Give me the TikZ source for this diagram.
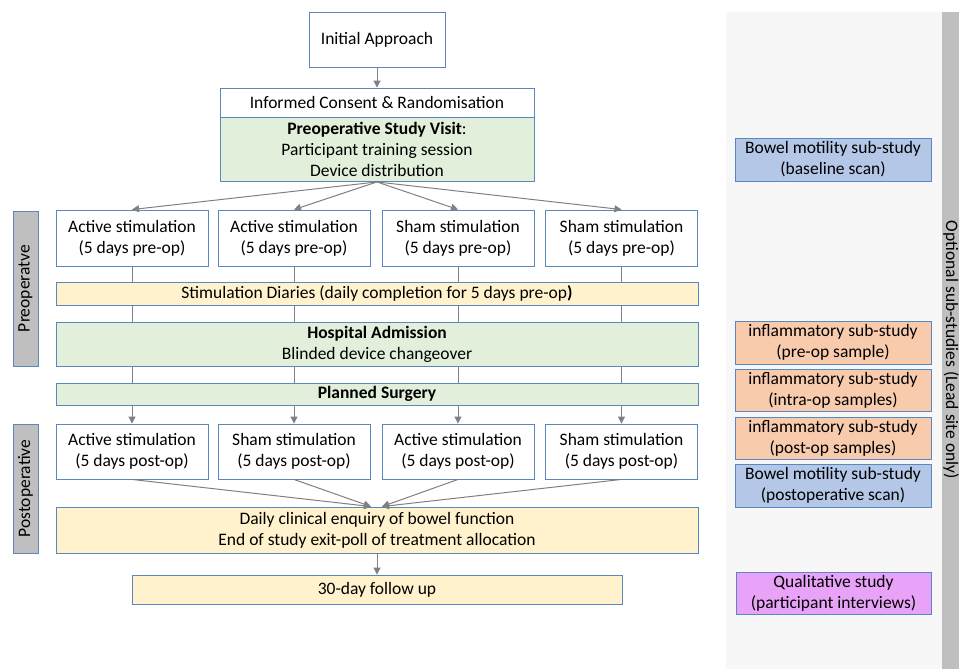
\documentclass[tikz,border=0pt]{standalone}
\usepackage{fontspec}
\setmainfont{Carlito}
\usetikzlibrary{arrows.meta}
\definecolor{bordblue}{HTML}{5A87BE}
\definecolor{greenfill}{HTML}{E2EFDA}
\definecolor{yellowfill}{HTML}{FFF2CC}
\definecolor{orangefill}{HTML}{F8CBAD}
\definecolor{bluefill}{HTML}{B4C7E7}
\definecolor{purplefill}{HTML}{E8A2F7}
\definecolor{labgray}{HTML}{BFBFBF}
\definecolor{panelgray}{HTML}{F7F7F7}
\definecolor{arrgray}{HTML}{808080}
\tikzset{
  box/.style={draw=bordblue, line width=0.9pt, align=center, inner sep=0pt, font=\fontsize{17.5}{21}\selectfont},
  conn/.style={draw=arrgray, line width=1pt},
  arr/.style={conn, -{Triangle[length=7pt,width=7pt]}},
}
\begin{document}
\begin{tikzpicture}[x=1pt,y=-1pt]
\useasboundingbox (0,0) rectangle (959,669);
% right panel
\fill[panelgray] (726,12) rectangle (942,669);
\fill[labgray] (942,12) rectangle (959,669);
\node[rotate=-90, font=\fontsize{17.5}{21}\selectfont] (optlab) at (951,350) {Optional sub-studies (Lead site only)};

% main flow
\node[box, fill=white, minimum width=136pt, minimum height=55pt] (init) at (377,40) {Initial Approach};
\node[box, fill=white, minimum width=314pt, minimum height=29pt] (consent) at (377,102.5) {Informed Consent \& Randomisation};
\node[box, fill=greenfill, minimum width=314pt, minimum height=64pt] (visit) at (377,149.5) {\textbf{Preoperative Study Visit}:\\Participant training session\\Device distribution};

\foreach \n/\cx/\t in {a1/132/Active, a2/294/Active, a3/458/Sham, a4/621.5/Sham}{
  \node[box, fill=white, minimum width=152pt, minimum height=56pt] (\n) at (\cx,238) {\t\ stimulation\\(5 days pre-op)};
}
\node[box, fill=yellowfill, minimum width=642pt, minimum height=23pt] (diary) at (377,293.5) {Stimulation Diaries (daily completion for 5 days pre-op\textbf{)}};
\node[box, fill=greenfill, minimum width=642pt, minimum height=44pt] (hosp) at (377,344) {\textbf{Hospital Admission}\\Blinded device changeover};
\node[box, fill=greenfill, minimum width=642pt, minimum height=22pt] (surg) at (377,394) {\textbf{Planned Surgery}};
\foreach \n/\cx/\t in {p1/132/Active, p2/294/Sham, p3/458/Active, p4/621.5/Sham}{
  \node[box, fill=white, minimum width=152pt, minimum height=55pt] (\n) at (\cx,451.5) {\t\ stimulation\\(5 days post-op)};
}
\node[box, fill=yellowfill, minimum width=642pt, minimum height=46pt] (daily) at (377,530) {Daily clinical enquiry of bowel function\\End of study exit-poll of treatment allocation};
\node[box, fill=yellowfill, minimum width=490pt, minimum height=29pt] (follow) at (377,589.5) {30-day follow up};

% side labels
\node[box, fill=labgray, minimum width=155pt, minimum height=25pt, rotate=90] (prelab) at (25.5,288.5) {Preoperatve};
\node[box, fill=labgray, minimum width=129pt, minimum height=25pt, rotate=90] (postlab) at (25.5,488.5) {Postoperative};

% sub-studies
\node[box, fill=bluefill, minimum width=196pt, minimum height=43pt] (bm1) at (833,159.5) {Bowel motility sub-study\\(baseline scan)};
\node[box, fill=orangefill, minimum width=196pt, minimum height=43pt] (inf1) at (833,342.5) {inflammatory sub-study\\(pre-op sample)};
\node[box, fill=orangefill, minimum width=196pt, minimum height=42pt] (inf2) at (833,390) {inflammatory sub-study\\(intra-op samples)};
\node[box, fill=orangefill, minimum width=196pt, minimum height=42pt] (inf3) at (833,438) {inflammatory sub-study\\(post-op samples)};
\node[box, fill=bluefill, minimum width=196pt, minimum height=43pt] (bm2) at (833,485.5) {Bowel motility sub-study\\(postoperative scan)};
\node[box, fill=purplefill, minimum width=195pt, minimum height=42pt] (qual) at (833.5,593) {Qualitative study\\(participant interviews)};

% connectors
\draw[arr] (init.south) -- (consent.north);
\foreach \n in {a1,a2,a3,a4}{\draw[arr] (visit.south) -- (\n.north);}
\foreach \i in {1,2,3,4}{
  \draw[conn] (a\i.south) -- (a\i.south |- diary.north);
  \draw[conn] (a\i.south |- diary.south) -- (a\i.south |- hosp.north);
  \draw[conn] (a\i.south |- hosp.south) -- (a\i.south |- surg.north);
  \draw[arr] (a\i.south |- surg.south) -- (p\i.north);
}
\coordinate (m1) at ([xshift=-6pt]daily.north);
\coordinate (m2) at ([xshift=5pt]daily.north);
\draw[arr] (p1.south) -- (m1);
\draw[arr] (p2.south) -- (m1);
\draw[arr] (p3.south) -- (m2);
\draw[arr] (p4.south) -- (m2);
\draw[arr] (daily.south) -- (follow.north);
\end{tikzpicture}
\end{document}
